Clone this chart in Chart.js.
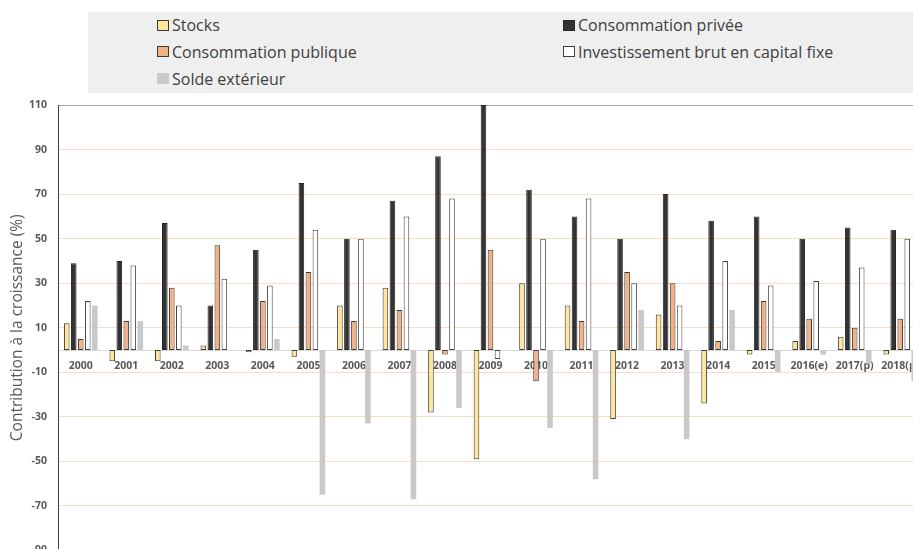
<!DOCTYPE html>
<html lang="fr">
<head>
<meta charset="utf-8">
<title>Contribution à la croissance</title>
<script src="https://cdn.jsdelivr.net/npm/chart.js@4.4.1/dist/chart.umd.min.js"></script>
<style>
  html, body { margin: 0; padding: 0; background: #ffffff; overflow: hidden; width: 913px; height: 549px; }
  #chartBox { position: absolute; left: 0; top: 0; width: 923px; height: 560px; }
  #legend {
    position: absolute; left: 88px; top: 12px; width: 825px; height: 81px;
    background: #efefef; font-family: "Open Sans", sans-serif; font-size: 16px; color: #404040;
  }
  .item { position: absolute; height: 20px; line-height: 20px; white-space: nowrap; display: flex; align-items: center; }
  .sw { display: inline-block; width: 12px; height: 11px; box-sizing: border-box; margin-right: 3px; }
</style>
</head>
<body>
<div id="chartBox"><canvas id="chart" width="923" height="560"></canvas></div>
<div id="legend"></div>
<script>
// Years on the category axis
const categories = ['2000', '2001', '2002', '2003', '2004', '2005', '2006', '2007', '2008', '2009',
  '2010', '2011', '2012', '2013', '2014', '2015', '2016(e)', '2017(p)', '2018(p)'];

// Contributions to growth (%) by component
const stocks          = [12, -5, -5, 2, -1, -3, 20, 28, -28, -49, 30, 20, -31, 16, -24, -2, 4, 6, -2];
const consoPrivee     = [39, 40, 57, 20, 45, 75, 50, 67, 87, 110, 72, 60, 50, 70, 58, 60, 50, 55, 54];
const consoPublique   = [5, 13, 28, 47, 22, 35, 13, 18, -2, 45, -14, 13, 35, 30, 4, 22, 14, 10, 14];
const investissement  = [22, 38, 20, 32, 29, 54, 50, 60, 68, -4, 50, 68, 30, 20, 40, 29, 31, 37, 50];
const soldeExterieur  = [20, 13, 2, 0, 5, -65, -33, -67, -26, 0, -35, -58, 18, -40, 18, -10, -2, -6, -14];

// Value axis tick labels
const yTicks = [-90, -70, -50, -30, -10, 10, 30, 50, 70, 90, 110];

const seriesNames = ['Stocks', 'Consommation privée', 'Consommation publique',
  'Investissement brut en capital fixe', 'Solde extérieur'];

const labelFont = { family: 'Open Sans', weight: 'bold', size: 10.5 };

function barSet(label, data, bg, border, width) {
  return {
    label, data,
    backgroundColor: bg,
    borderColor: border,
    borderWidth: width,
    borderSkipped: false,
    categoryPercentage: 0.77,
    barPercentage: 0.8
  };
}

const chart = new Chart(document.getElementById('chart'), {
  type: 'bar',
  data: {
    labels: categories,
    datasets: [
      barSet(seriesNames[0], stocks, '#ffe699', '#3a3a3a', 1),
      barSet(seriesNames[1], consoPrivee, '#333333', '#262626', 1),
      barSet(seriesNames[2], consoPublique, '#f4b183', '#3a3a3a', 1),
      barSet(seriesNames[3], investissement, '#ffffff', '#404040', 1),
      barSet(seriesNames[4], soldeExterieur, '#c9c9c9', '#c9c9c9', 0)
    ]
  },
  options: {
    responsive: false,
    animation: false,
    devicePixelRatio: 1,
    layout: { autoPadding: false, padding: { left: 0, top: 105, right: 0, bottom: 9.5 } },
    plugins: { legend: { display: false }, tooltip: { enabled: false } },
    scales: {
      x: {
        position: { y: 0 },
        grid: { display: false, drawTicks: false },
        border: { display: true, color: '#d9d9d9', width: 1 },
        ticks: { color: '#595959', font: labelFont, padding: 10, maxRotation: 0, autoSkip: false },
        afterFit(scale) { scale.paddingLeft = 0; scale.paddingRight = 0; }
      },
      y: {
        min: -90,
        max: 110,
        afterBuildTicks(scale) { scale.ticks = yTicks.map(v => ({ value: v })); },
        afterFit(scale) { scale.width = 58; scale.paddingTop = 0; scale.paddingBottom = 0; },
        grid: {
          drawTicks: false,
          lineWidth: 1,
          color: ctx => (ctx.tick && ctx.tick.value === 110) ? '#a6a6a6' : '#fadccc'
        },
        border: { display: true, color: '#404040', width: 1 },
        ticks: { color: '#595959', font: labelFont, padding: 11 },
        title: {
          display: true,
          text: 'Contribution à la croissance (%)',
          color: '#595959',
          font: { family: 'Open Sans', size: 15.5 },
          padding: { top: 8, bottom: 0 }
        }
      }
    }
  }
});

// Two-column legend built from the chart's datasets
const legendBox = document.getElementById('legend');
const colLeft = [69, 475];
const rowTop = [3, 29.5, 56.5];
chart.data.datasets.forEach((ds, i) => {
  const item = document.createElement('div');
  item.className = 'item';
  item.style.left = colLeft[i % 2] + 'px';
  item.style.top = rowTop[Math.floor(i / 2)] + 'px';
  const sw = document.createElement('span');
  sw.className = 'sw';
  sw.style.background = ds.backgroundColor;
  sw.style.border = ds.borderWidth ? '1px solid ' + ds.borderColor : 'none';
  const txt = document.createElement('span');
  txt.textContent = ds.label;
  item.appendChild(sw);
  item.appendChild(txt);
  legendBox.appendChild(item);
});
</script>
</body>
</html>
